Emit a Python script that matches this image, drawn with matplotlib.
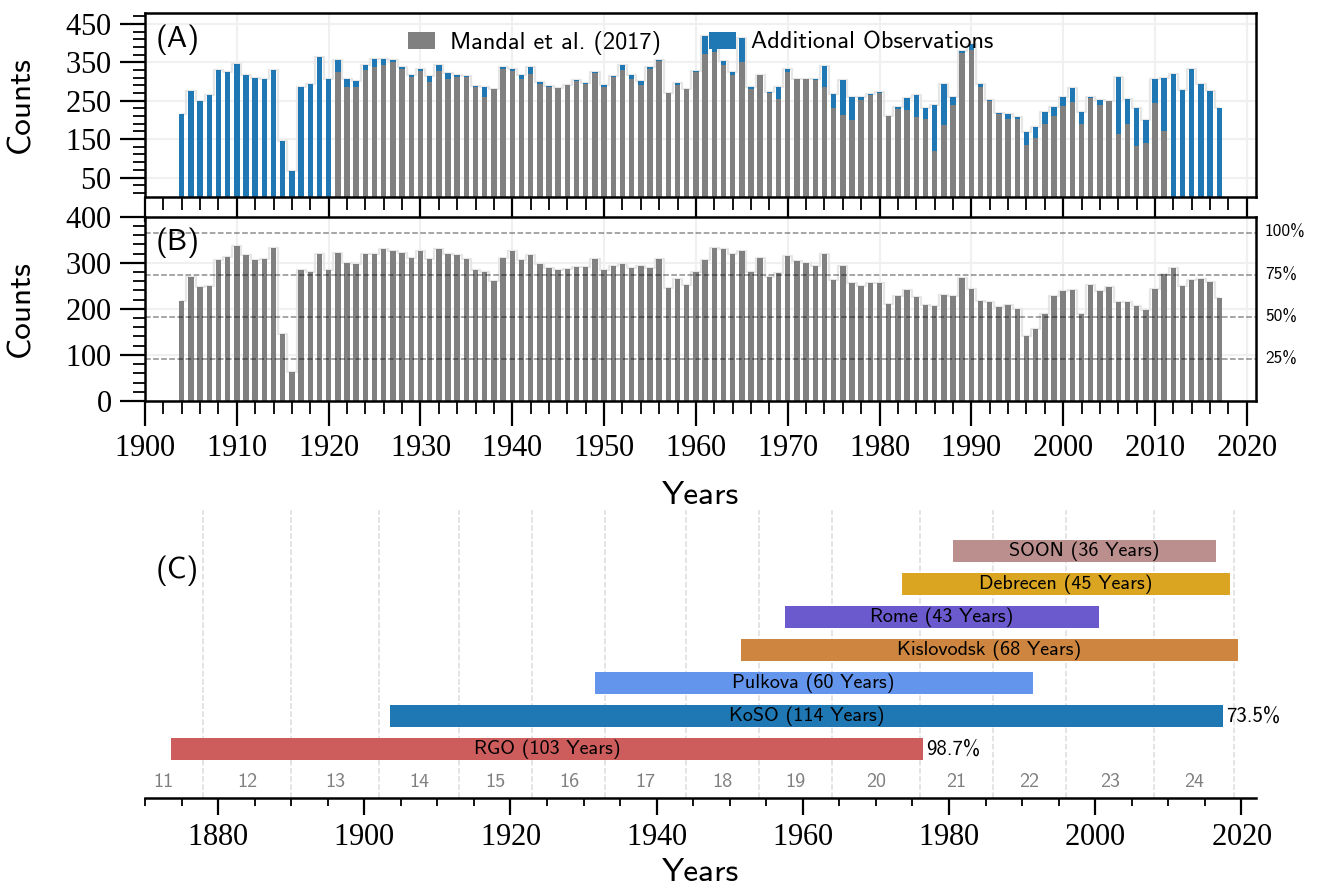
import numpy as np
import matplotlib
matplotlib.use("Agg")
import matplotlib.pyplot as plt
from matplotlib.ticker import MultipleLocator, AutoMinorLocator

SANS = ['cmss10', 'DejaVu Sans']
SERIF = ['Liberation Serif', 'DejaVu Serif']
plt.rcParams['font.family'] = SANS
plt.rcParams['axes.unicode_minus'] = False
plt.rcParams['axes.formatter.use_mathtext'] = True

# yearly counts, 1904-2017
years = np.arange(1904, 2018)

mandal_counts = [0] * 17 + [
    324, 285, 286, 331, 337, 342, 352, 333, 313, 328,   # 1921-1930
    298, 328, 307, 313, 313, 286, 259, 280, 333, 328,   # 1931-1940
    307, 321, 293, 285, 283, 291, 302, 294, 323, 286,   # 1941-1950
    311, 331, 306, 292, 333, 354, 271, 292, 280, 324,   # 1951-1960
    373, 376, 344, 318, 352, 281, 316, 270, 255, 326,   # 1961-1970
    307, 307, 303, 286, 232, 213, 201, 253, 264, 270,   # 1971-1980
    210, 229, 226, 207, 203, 120, 187, 240, 375, 381,   # 1981-1990
    285, 250, 216, 203, 203, 135, 153, 190, 211, 237,   # 1991-2000
    248, 190, 256, 240, 249, 164, 190, 133, 140, 245,   # 2001-2010
    172] + [0] * 6

additional_counts = [
    216, 276, 250, 266, 331, 326, 345, 317, 310, 307,   # 1904-1913
    331, 145, 67, 285, 294, 365, 307,                   # 1914-1920
    33, 21, 16, 13, 23, 18, 5, 5, 4, 5,                 # 1921-1930
    17, 16, 16, 4, 2, 3, 28, 0, 5, 6,                   # 1931-1940
    11, 18, 7, 3, 0, 1, 2, 3, 3, 4,                     # 1941-1950
    3, 13, 12, 10, 6, 3, 0, 3, 0, 3,                    # 1951-1960
    47, 24, 9, 7, 62, 6, 1, 4, 32, 8,                   # 1961-1970
    1, 0, 4, 55, 35, 91, 59, 7, 3, 4,                   # 1971-1980
    1, 5, 32, 57, 29, 120, 107, 20, 5, 16,              # 1981-1990
    9, 1, 2, 13, 4, 34, 29, 31, 24, 23,                 # 1991-2000
    36, 31, 4, 13, 1, 149, 65, 98, 60, 62,              # 2001-2010
    137, 320, 279, 334, 294, 276, 231]                  # 2011-2017

koso_counts = [
    216, 270, 247, 250, 305, 312, 337, 316, 305, 308,   # 1904-1913
    332, 146, 62, 284, 279, 318, 284,                   # 1914-1920
    322, 300, 298, 318, 318, 329, 326, 321, 310, 325,   # 1921-1930
    309, 329, 318, 316, 308, 284, 281, 260, 311, 325,   # 1931-1940
    305, 316, 298, 288, 284, 286, 290, 290, 309, 284,   # 1941-1950
    292, 298, 288, 293, 289, 309, 246, 264, 252, 281,   # 1951-1960
    305, 331, 329, 318, 325, 279, 311, 270, 278, 314,   # 1961-1970
    303, 300, 292, 318, 262, 292, 257, 250, 257, 257,   # 1971-1980
    210, 228, 241, 225, 209, 206, 231, 228, 266, 242,   # 1981-1990
    216, 215, 204, 209, 200, 142, 156, 188, 227, 238,   # 1991-2000
    241, 188, 252, 238, 247, 214, 214, 206, 198, 244,   # 2001-2010
    275, 289, 249, 262, 265, 259, 223]                  # 2011-2017

coverage_levels = [1.0, 0.75, 0.5, 0.25]
coverage_labels = ['100%', '75%', '50%', '25%']
days_per_year = 365

# observatories for panel (C)
obs_names = ['RGO', 'KoSO', 'Pulkova', 'Kislovodsk', 'Rome', 'Debrecen', 'SOON']
obs_start = [1874, 1904, 1932, 1952, 1958, 1974, 1981]
obs_end = [1976, 2017, 1991, 2019, 2000, 2018, 2016]
obs_colors = ['indianred', '#1f77b4', 'cornflowerblue', 'peru', 'slateblue',
              'goldenrod', 'rosybrown']
obs_extra = ['98.7%', '73.5%', '', '', '', '', '']

cycle_minima = [1867, 1878, 1890, 1902, 1913, 1923, 1933, 1944, 1954, 1964,
                1976, 1986, 1996, 2008, 2019]
cycle_numbers = list(range(11, 25))

GRAY = '#808080'
BLUE = '#1f77b4'
HALO = '#e6e6e6'

W, H = 1317, 893
fig = plt.figure(figsize=(W / 100, H / 100), dpi=100)
axA = fig.add_axes([145 / W, 1 - 196.7 / H, 1111 / W, 184.2 / H])
axB = fig.add_axes([145 / W, 1 - 401 / H, 1111 / W, 184.3 / H])
axC = fig.add_axes([145 / W, 1 - 798 / H, 1111 / W, 288 / H])


def style_ticks(ax, big=18, small=9):
    ax.tick_params(which='major', length=big, width=1.6, direction='out',
                   labelsize=22, pad=6, labelfontfamily=SERIF)
    ax.tick_params(which='minor', length=small, width=1.3, direction='out')
    for s in ax.spines.values():
        s.set_linewidth(1.8)


mandal = np.array(mandal_counts)
extra = np.array(additional_counts)
total = mandal + extra

# (A)
axA.step(years, total, where='mid', color=HALO, lw=1.6, zorder=1)
axA.bar(years, mandal, width=0.6, color=GRAY, zorder=2, label='Mandal et al. (2017)')
axA.bar(years, extra, width=0.6, bottom=mandal, color=BLUE, zorder=2,
        label='Additional Observations')
axA.set_xlim(1900, 2021)
axA.set_ylim(0, 480)
axA.set_yticks([50, 150, 250, 350, 450])
axA.yaxis.set_minor_locator(AutoMinorLocator(5))
axA.xaxis.set_major_locator(MultipleLocator(10))
axA.xaxis.set_minor_locator(MultipleLocator(2))
axA.tick_params(labelbottom=False)
axA.grid(color='#f0f0f0', lw=1.5)
axA.set_axisbelow(True)
style_ticks(axA)
axA.set_ylabel('Counts', fontsize=24)
axA.yaxis.set_label_coords(-0.099, 0.5)
axA.text(0.01, 0.85, '(A)', transform=axA.transAxes, fontsize=22, va='center')
axA.legend(loc='upper center', ncol=2, frameon=False, fontsize=17.5,
           handlelength=1.1, handletextpad=0.6, columnspacing=2.0,
           bbox_to_anchor=(0.5, 1.02))

# (B)
axB.step(years, koso_counts, where='mid', color=HALO, lw=1.6, zorder=1)
axB.bar(years, koso_counts, width=0.6, color=GRAY, zorder=2)
for lev, lab in zip(coverage_levels, coverage_labels):
    axB.axhline(lev * days_per_year, color='k', alpha=0.45, ls='--', lw=1.1, zorder=3)
    axB.text(1.008, lev * days_per_year, lab, transform=axB.get_yaxis_transform(),
             fontsize=12.5, va='center', ha='left')
axB.set_xlim(1900, 2021)
axB.set_ylim(0, 400)
axB.yaxis.set_major_locator(MultipleLocator(100))
axB.yaxis.set_minor_locator(AutoMinorLocator(5))
axB.xaxis.set_major_locator(MultipleLocator(10))
axB.xaxis.set_minor_locator(MultipleLocator(2))
axB.grid(color='#f0f0f0', lw=1.5)
axB.set_axisbelow(True)
style_ticks(axB)
axB.set_ylabel('Counts', fontsize=24)
axB.yaxis.set_label_coords(-0.099, 0.5)
axB.set_xlabel('Years', fontsize=24, labelpad=13)
axB.text(0.01, 0.86, '(B)', transform=axB.transAxes, fontsize=22, va='center')

# (C)
for i, (name, s, e, c, ex) in enumerate(zip(obs_names, obs_start, obs_end,
                                            obs_colors, obs_extra)):
    n = e - s + 1
    axC.barh(i, n, left=s - 0.5, height=0.66, color=c, zorder=2)
    axC.text(s - 0.5 + n / 2, i, f'{name} ({n} Years)', ha='center', va='center',
             fontsize=14.5, zorder=3)
    if ex:
        axC.text(e + 0.9, i, ex, ha='left', va='center', fontsize=15)

for m in cycle_minima[1:]:
    axC.axvline(m, color='#dcdcdc', ls='--', lw=1.1, zorder=0)
mids = (np.array(cycle_minima[:-1]) + np.array(cycle_minima[1:])) / 2
for num, xm in zip(cycle_numbers, mids):
    axC.text(xm, -1, str(num), ha='center', va='center', fontsize=14.5, color=GRAY)

axC.set_xlim(1870, 2022)
axC.set_ylim(-1.48, 7.24)
axC.xaxis.set_major_locator(MultipleLocator(20))
axC.xaxis.set_minor_locator(MultipleLocator(5))
for side in ['left', 'right', 'top']:
    axC.spines[side].set_visible(False)
axC.set_yticks([])
style_ticks(axC, big=12, small=6)
axC.set_xlabel('Years', fontsize=24, labelpad=4)
axC.text(0.01, 0.79, '(C)', transform=axC.transAxes, fontsize=22, va='center')

fig.savefig('out.png', dpi=100)
